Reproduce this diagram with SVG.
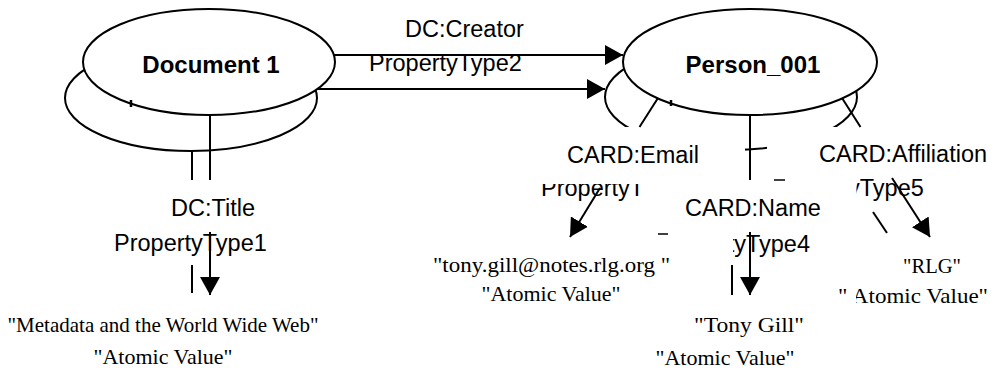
<svg xmlns="http://www.w3.org/2000/svg" width="994" height="373" viewBox="0 0 994 373">
<style>
.el{fill:#fff;stroke:#000;stroke-width:2}
.eb{fill:none;stroke:#000;stroke-width:2}
.ln{stroke:#000;stroke-width:2;fill:none}
.nt{font-family:"Liberation Sans",Arial,sans-serif;font-weight:bold;font-size:24px;fill:#000}
.lb{font-family:"Liberation Sans",Arial,sans-serif;font-size:23.5px;fill:#000}
.vl{font-family:"Liberation Serif","Times New Roman",serif;font-size:22px;fill:#000}
</style>
<defs>
<marker id="ah" markerUnits="userSpaceOnUse" markerWidth="18" markerHeight="20" refX="18" refY="10" orient="auto">
<path d="M0,0 L18,10 L0,20 Z" fill="#000"/>
</marker>
<clipPath id="cpb"><rect x="0" y="0" width="994" height="127"/><rect x="745" y="140" width="22" height="15"/></clipPath>
<clipPath id="c3"><rect x="0" y="184" width="640" height="40"/></clipPath>
<clipPath id="c4"><rect x="733" y="220" width="200" height="50"/></clipPath>
<clipPath id="c5"><rect x="856.5" y="170" width="140" height="40"/></clipPath>
<clipPath id="cA"><rect x="0" y="270" width="847" height="50"/><rect x="856" y="270" width="140" height="50"/></clipPath>
</defs>

<g id="node-document1-back">
<ellipse class="eb" cx="191" cy="98" rx="126" ry="53"/>
</g>
<g id="node-person001-back">
<ellipse class="eb" cx="731" cy="97" rx="126" ry="53" clip-path="url(#cpb)"/>
</g>
<g id="node-document1">
<ellipse class="el" cx="209" cy="62" rx="126" ry="53"/>
<text class="nt" x="211" y="73" text-anchor="middle">Document 1</text>
</g>
<g id="node-person001">
<ellipse class="el" cx="750" cy="62" rx="127" ry="53"/>
<text class="nt" x="753" y="73" text-anchor="middle">Person_001</text>
</g>

<g id="labels">
<text class="lb" x="405" y="37">DC:Creator</text>
<text class="lb" x="369" y="71">PropertyType2</text>
<text class="lb" x="171" y="216">DC:Title</text>
<text class="lb" x="114" y="251">PropertyType1</text>
<text class="lb" x="567" y="163">CARD:Email</text>
<text class="lb" x="541" y="196" clip-path="url(#c3)">PropertyType3</text>
<text class="lb" x="685" y="216">CARD:Name</text>
<text class="lb" x="810" y="252" text-anchor="end" clip-path="url(#c4)">PropertyType4</text>
<text class="lb" x="819" y="162">CARD:Affiliation</text>
<text class="lb" x="771" y="196" clip-path="url(#c5)">PropertyType5</text>
</g>

<g id="values">
<text class="vl" x="163" y="332" text-anchor="middle" style="font-size:21px">"Metadata and the World Wide Web"</text>
<text class="vl" x="163" y="364" text-anchor="middle">"Atomic Value"</text>
<text class="vl" x="433" y="272" textLength="237" lengthAdjust="spacingAndGlyphs">"tony.gill@notes.rlg.org "</text>
<text class="vl" x="551" y="301" text-anchor="middle">"Atomic Value"</text>
<text class="vl" x="694" y="332" textLength="110" lengthAdjust="spacingAndGlyphs">"Tony Gill"</text>
<text class="vl" x="725" y="365" text-anchor="middle">"Atomic Value"</text>
<text class="vl" x="903" y="273" textLength="58" lengthAdjust="spacingAndGlyphs">"RLG"</text>
<text class="vl" x="838" y="303" textLength="150" lengthAdjust="spacingAndGlyphs" clip-path="url(#cA)">" Atomic Value"</text>
</g>

<g id="connectors">
<line class="ln" x1="334" y1="55" x2="623" y2="55" marker-end="url(#ah)"/>
<line class="ln" x1="317" y1="89" x2="605" y2="89" marker-end="url(#ah)"/>
<line class="ln" x1="210" y1="115" x2="210" y2="180"/>
<line class="ln" x1="210" y1="232" x2="210" y2="295" marker-end="url(#ah)"/>
<line class="ln" x1="192" y1="151" x2="192" y2="180"/>
<line class="ln" x1="192" y1="265" x2="192" y2="293"/>
<line class="ln" x1="750" y1="115" x2="750" y2="180"/>
<line class="ln" x1="750" y1="232" x2="750" y2="295" marker-end="url(#ah)"/>
<line class="ln" x1="732" y1="265" x2="732" y2="295"/>
<line class="ln" x1="658" y1="98" x2="639.5" y2="127"/>
<line class="ln" x1="600" y1="188" x2="570" y2="237" marker-end="url(#ah)"/>
<line class="ln" x1="842" y1="98" x2="860.5" y2="127"/>
<line class="ln" x1="892" y1="178" x2="930" y2="237" marker-end="url(#ah)"/>
<line class="ln" x1="873" y1="212" x2="887" y2="233"/>
<line class="ln" x1="131" y1="100" x2="131" y2="107" style="stroke-width:2.5"/>
<line class="ln" x1="671" y1="100" x2="671" y2="106" style="stroke-width:2.5"/>
<line class="ln" x1="774" y1="180" x2="785" y2="180" style="stroke-width:1.5"/>
<line class="ln" x1="658" y1="234" x2="668" y2="234" style="stroke-width:1.5"/>
</g>
</svg>
